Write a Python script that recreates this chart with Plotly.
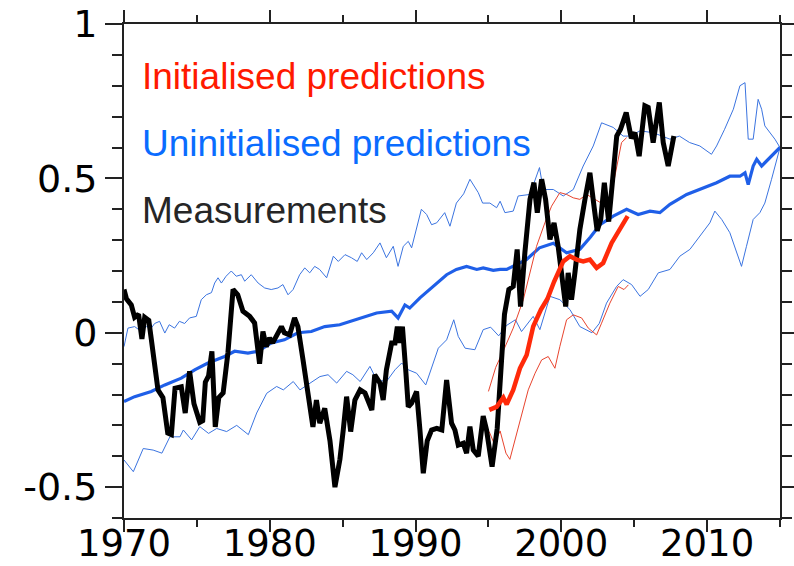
import plotly.graph_objects as go

# ---- Measurements (black) ----
obs_year = [1970.0, 1970.17, 1970.5, 1970.73, 1971.0, 1971.23, 1971.42, 1971.7, 1971.87, 1972.1,
            1972.33, 1972.67, 1973.0, 1973.25, 1973.5, 1973.93, 1974.2, 1974.5, 1974.8, 1975.2,
            1975.4, 1975.58, 1975.8, 1976.03, 1976.26, 1976.5, 1976.8, 1977.13, 1977.48, 1977.8,
            1978.16, 1978.62, 1978.96, 1979.3, 1979.53, 1979.76, 1979.99, 1980.2, 1980.5, 1980.8,
            1981.0, 1981.36, 1981.7, 1981.93, 1982.28, 1982.62, 1982.96, 1983.2, 1983.43, 1983.77,
            1984.13, 1984.47, 1984.81, 1985.04, 1985.27, 1985.55, 1985.84, 1986.2, 1986.53, 1987.0,
            1987.2, 1987.56, 1987.78, 1988.0, 1988.36, 1988.59, 1988.75, 1988.93, 1989.1, 1989.34,
            1989.5, 1989.73, 1990.07, 1990.3, 1990.53, 1990.8, 1991.1, 1991.45, 1991.8, 1992.13,
            1992.47, 1992.7, 1992.93, 1993.27, 1993.5, 1993.73, 1993.96, 1994.3, 1994.64, 1994.87,
            1995.25, 1995.6, 1995.9, 1996.1, 1996.4, 1996.7, 1996.97, 1997.2, 1997.5, 1997.85,
            1998.12, 1998.35, 1998.65, 1998.92, 1999.22, 1999.5, 1999.78, 2000.09, 2000.3, 2000.47,
            2000.7, 2000.93, 2001.27, 2001.62, 2001.96, 2002.24, 2002.46, 2002.7, 2002.95, 2003.25,
            2003.52, 2003.8, 2004.06, 2004.45, 2004.8, 2005.05, 2005.34, 2005.73, 2005.96, 2006.3,
            2006.72, 2006.99, 2007.33, 2007.72]
obs_val = [0.14, 0.11, 0.09, 0.05, 0.06, -0.02, 0.05, 0.04, -0.02, -0.12,
           -0.185, -0.21, -0.325, -0.33, -0.18, -0.175, -0.26, -0.125, -0.23, -0.29,
           -0.285, -0.16, -0.14, -0.06, -0.305, -0.21, -0.195, -0.065, 0.14, 0.123,
           0.07, 0.053, 0.032, -0.10, 0.004, -0.045, -0.017, -0.033, -0.007, 0.02,
           0.0, -0.007, 0.048, 0.02, -0.088, -0.20, -0.305, -0.218, -0.293, -0.245,
           -0.35, -0.50, -0.41, -0.315, -0.207, -0.32, -0.218, -0.185, -0.195, -0.25,
           -0.136, -0.163, -0.218, -0.12, -0.033, -0.033, 0.02, -0.033, 0.02, -0.13,
           -0.24, -0.228, -0.19, -0.315, -0.455, -0.35, -0.315, -0.31, -0.315, -0.153,
           -0.293, -0.315, -0.364, -0.358, -0.39, -0.304, -0.38, -0.40, -0.27, -0.315,
           -0.434, -0.31, -0.06, 0.06, 0.14, 0.15, 0.27, 0.085, 0.26, 0.432,
           0.486, 0.389, 0.497, 0.432, 0.302, 0.356, 0.28, 0.161, 0.085, 0.194,
           0.107, 0.194, 0.334, 0.432, 0.518, 0.41, 0.33, 0.367, 0.486, 0.36,
           0.507, 0.637, 0.659, 0.713, 0.63, 0.648, 0.572, 0.735, 0.73, 0.616,
           0.746, 0.616, 0.54, 0.637]

# ---- Uninitialised predictions (blue) ----
unin_mean_year = [1970.0, 1970.73, 1971.87, 1972.8, 1973.93, 1974.85, 1975.76, 1976.9, 1977.59, 1978.5,
                  1979.2, 1980.1, 1981.0, 1981.93, 1982.85, 1983.77, 1984.8, 1986.2, 1987.33, 1988.36,
                  1988.8, 1989.27, 1989.6, 1990.3, 1991.2, 1992.13, 1992.8, 1993.5, 1994.2, 1994.64,
                  1995.33, 1995.8, 1996.25, 1996.7, 1997.6, 1998.5, 1999.45, 2000.36, 2001.27, 2002.0,
                  2002.65, 2003.56, 2004.48, 2005.27, 2006.08, 2006.76, 2007.45, 2008.6, 2009.73, 2010.65,
                  2011.56, 2012.25, 2012.6, 2012.82, 2013.16, 2013.4, 2013.74, 2014.3, 2015.0]
unin_mean_val = [-0.223, -0.207, -0.19, -0.169, -0.147, -0.12, -0.098, -0.077, -0.06, -0.066,
                 -0.06, -0.033, -0.023, 0.0, 0.004, 0.02, 0.026, 0.048, 0.064, 0.07,
                 0.048, 0.09, 0.08, 0.113, 0.15, 0.188, 0.205, 0.215, 0.205, 0.21,
                 0.202, 0.205, 0.205, 0.215, 0.237, 0.275, 0.29, 0.259, 0.27, 0.31,
                 0.35, 0.378, 0.4, 0.383, 0.394, 0.389, 0.416, 0.448, 0.47, 0.486,
                 0.507, 0.507, 0.518, 0.48, 0.54, 0.562, 0.54, 0.567, 0.60]

unin_hi_year = [1970.0, 1970.27, 1970.73, 1971.19, 1971.53, 1971.87, 1972.1, 1972.44, 1972.8, 1973.1,
                1973.47, 1973.8, 1974.16, 1974.5, 1974.96, 1975.3, 1975.65, 1976.0, 1976.22, 1976.45,
                1976.68, 1977.0, 1977.36, 1977.7, 1978.05, 1978.28, 1978.73, 1979.2, 1979.65, 1980.1,
                1980.56, 1980.9, 1981.25, 1981.6, 1982.05, 1982.4, 1982.74, 1983.08, 1983.42, 1983.9,
                1984.36, 1984.7, 1985.16, 1985.6, 1986.0, 1986.3, 1986.65, 1987.1, 1987.56, 1988.0,
                1988.47, 1988.8, 1989.16, 1989.5, 1989.73, 1990.07, 1990.4, 1990.76, 1991.1, 1991.45,
                1992.0, 1992.36, 1992.8, 1993.3, 1993.73, 1994.3, 1994.6, 1995.1, 1995.56, 1995.8,
                1996.13, 1996.7, 1997.04, 1997.85, 1998.2, 1998.5, 1998.76, 1999.45, 2000.13, 2000.82,
                2001.5, 2002.19, 2002.76, 2003.56, 2004.24, 2004.7, 2005.4, 2006.3, 2007.45, 2008.1,
                2008.8, 2009.5, 2010.3, 2010.65, 2011.2, 2011.8, 2012.25, 2012.6, 2012.82, 2013.16,
                2013.5, 2013.74, 2013.96, 2014.3, 2014.65, 2015.0]
unin_hi_val = [-0.045, 0.015, 0.02, 0.004, 0.02, 0.015, 0.03, 0.037, -0.001, 0.026,
               0.015, 0.037, 0.03, 0.048, 0.053, 0.107, 0.123, 0.13, 0.161, 0.178,
               0.161, 0.183, 0.2, 0.183, 0.188, 0.167, 0.188, 0.161, 0.145, 0.14,
               0.145, 0.156, 0.123, 0.14, 0.188, 0.21, 0.194, 0.215, 0.205, 0.178,
               0.248, 0.231, 0.253, 0.243, 0.231, 0.259, 0.237, 0.259, 0.291, 0.243,
               0.28, 0.215, 0.28, 0.296, 0.275, 0.334, 0.40, 0.383, 0.35, 0.356,
               0.389, 0.345, 0.42, 0.45, 0.497, 0.454, 0.42, 0.42, 0.405, 0.426,
               0.389, 0.394, 0.443, 0.448, 0.497, 0.535, 0.464, 0.464, 0.443, 0.464,
               0.54, 0.605, 0.68, 0.665, 0.637, 0.637, 0.654, 0.648, 0.627, 0.637,
               0.616, 0.605, 0.578, 0.605, 0.659, 0.724, 0.80, 0.81, 0.627, 0.627,
               0.756, 0.724, 0.67, 0.648, 0.627, 0.60]

unin_lo_year = [1970.0, 1970.64, 1971.32, 1972.0, 1972.6, 1973.15, 1973.84, 1974.07, 1974.64, 1975.2,
                1975.8, 1976.36, 1977.04, 1977.73, 1978.53, 1979.1, 1979.79, 1980.47, 1980.93, 1981.61,
                1982.07, 1982.76, 1983.44, 1984.0, 1984.59, 1985.27, 1985.7, 1986.2, 1986.87, 1987.33,
                1988.0, 1988.59, 1989.05, 1989.5, 1990.07, 1990.7, 1991.2, 1991.56, 1992.13, 1992.62,
                1992.93, 1993.4, 1994.07, 1994.64, 1995.15, 1995.7, 1996.25, 1996.85, 1997.27, 1998.07,
                1998.53, 1999.22, 1999.9, 2000.59, 2001.27, 2002.1, 2002.6, 2003.1, 2003.79, 2004.24,
                2004.82, 2005.4, 2005.96, 2006.65, 2007.45, 2008.13, 2008.82, 2009.5, 2010.19, 2010.53,
                2011.0, 2011.56, 2012.02, 2012.36, 2012.7, 2013.16, 2013.62, 2013.96, 2014.42, 2015.0]
unin_lo_val = [-0.412, -0.45, -0.375, -0.38, -0.39, -0.337, -0.337, -0.315, -0.347, -0.304,
               -0.326, -0.31, -0.32, -0.30, -0.33, -0.26, -0.196, -0.174, -0.185, -0.158,
               -0.185, -0.163, -0.142, -0.136, -0.163, -0.125, -0.136, -0.158, -0.109, -0.153,
               -0.158, -0.12, -0.098, -0.12, -0.131, -0.169, -0.098, -0.05, -0.023, 0.042,
               -0.012, -0.05, -0.055, 0.01, 0.018, -0.01, 0.024, 0.042, 0.004, 0.053,
               0.01, 0.118, 0.107, 0.075, 0.02, 0.0, 0.03, 0.096, 0.15, 0.172,
               0.156, 0.118, 0.14, 0.194, 0.205, 0.248, 0.27, 0.313, 0.356, 0.394,
               0.367, 0.324, 0.259, 0.215, 0.28, 0.367, 0.389, 0.42, 0.497, 0.60]

# ---- Initialised predictions (red) ----
init_mean_year = [1995.06, 1995.56, 1996.02, 1996.25, 1996.7, 1997.16, 1997.62, 1998.07, 1998.6, 1999.05,
                  1999.5, 2000.13, 2000.59, 2001.05, 2001.5, 2001.96, 2002.42, 2002.87, 2003.45, 2003.9,
                  2004.55]
init_mean_val = [-0.25, -0.24, -0.21, -0.232, -0.185, -0.115, -0.072, 0.02, 0.075, 0.11,
                 0.165, 0.231, 0.248, 0.237, 0.231, 0.237, 0.21, 0.226, 0.291, 0.324,
                 0.378]

init_hi_year = [1995.0, 1995.5, 1996.1, 1996.7, 1997.39, 1997.85, 1998.3, 1998.87, 1999.33, 1999.9,
                2000.36, 2000.82, 2001.27, 2001.73, 2002.3, 2002.8, 2003.1, 2003.45, 2003.79, 2004.13,
                2004.48]
init_hi_val = [-0.19, -0.112, -0.05, 0.015, 0.107, 0.194, 0.28, 0.356, 0.41, 0.454,
               0.448, 0.437, 0.432, 0.448, 0.432, 0.418, 0.41, 0.454, 0.54, 0.616,
               0.632]

init_lo_year = [1995.05, 1995.4, 1995.8, 1996.2, 1996.47, 1996.82, 1997.27, 1997.73, 1998.2, 1998.65,
                1999.1, 1999.56, 1999.9, 2000.36, 2000.82, 2001.39, 2001.85, 2002.42, 2002.76, 2003.33,
                2003.9, 2004.3, 2004.6]
init_lo_val = [-0.32, -0.36, -0.318, -0.39, -0.41, -0.347, -0.26, -0.185, -0.131, -0.088,
               -0.077, -0.115, -0.044, 0.042, 0.058, 0.048, 0.015, -0.007, 0.031, 0.096,
               0.15, 0.14, 0.155]

# ---- Axes / labels ----
x_tick_vals = [1970, 1980, 1990, 2000, 2010]
x_tick_text = ["1970", "1980", "1990", "2000", "2010"]
y_tick_vals = [-0.5, 0, 0.5, 1]
y_tick_text = ["-0.5", "0", "0.5", "1"]
legend_labels = ["Initialised predictions", "Uninitialised predictions", "Measurements"]

BLUE = "#1f5fe8"
BLUE_THIN = "#3b74e0"
RED = "#ff2a0a"
RED_THIN = "#e8442e"

fig = go.Figure()
fig.add_trace(go.Scatter(x=unin_hi_year, y=unin_hi_val, mode="lines",
                         line=dict(color=BLUE_THIN, width=1)))
fig.add_trace(go.Scatter(x=unin_lo_year, y=unin_lo_val, mode="lines",
                         line=dict(color=BLUE_THIN, width=1)))
fig.add_trace(go.Scatter(x=unin_mean_year, y=unin_mean_val, mode="lines",
                         line=dict(color=BLUE, width=3.2)))
fig.add_trace(go.Scatter(x=init_hi_year, y=init_hi_val, mode="lines",
                         line=dict(color=RED_THIN, width=1)))
fig.add_trace(go.Scatter(x=init_lo_year, y=init_lo_val, mode="lines",
                         line=dict(color=RED_THIN, width=1)))
fig.add_trace(go.Scatter(x=obs_year, y=obs_val, mode="lines",
                         line=dict(color="#000000", width=5)))
fig.add_trace(go.Scatter(x=init_mean_year, y=init_mean_val, mode="lines",
                         line=dict(color=RED, width=4.5)))

legend_colors = ["#ff1a00", "#0a6cff", "#262626"]
legend_y = [0.893, 0.759, 0.623]
for txt, col, yy in zip(legend_labels, legend_colors, legend_y):
    fig.add_annotation(text=txt, xref="paper", yref="paper", x=0.024, y=yy,
                       xanchor="left", yanchor="middle", showarrow=False,
                       font=dict(family="Liberation Sans, Arial, sans-serif", size=37, color=col))

axis_color = "#222222"
fig.update_xaxes(range=[1970, 2015], showgrid=False, zeroline=False,
                 showline=True, linecolor=axis_color, linewidth=2, mirror="allticks",
                 ticks="outside", ticklen=12, tickwidth=2, tickcolor=axis_color,
                 tickvals=x_tick_vals, ticktext=x_tick_text, ticklabelstandoff=-20,
                 tickfont=dict(family="DejaVu Sans", size=37, color="#000000"),
                 minor=dict(dtick=5, tick0=1970, ticks="outside", ticklen=7, tickwidth=2,
                            tickcolor=axis_color, showgrid=False))
fig.update_yaxes(range=[-0.6, 1.0], showgrid=False, zeroline=False,
                 showline=True, linecolor=axis_color, linewidth=2, mirror="allticks",
                 ticks="outside", ticklen=17, tickwidth=2, tickcolor=axis_color,
                 tickvals=y_tick_vals, ticktext=y_tick_text,
                 tickfont=dict(family="DejaVu Sans", size=38, color="#000000"),
                 minor=dict(dtick=0.1, tick0=0, ticks="outside", ticklen=10, tickwidth=2,
                            tickcolor=axis_color, showgrid=False))

fig.update_layout(width=794, height=566, showlegend=False,
                  margin=dict(l=124, r=14, t=24, b=48, autoexpand=False),
                  plot_bgcolor="white", paper_bgcolor="white")

fig.write_html("out.html")
